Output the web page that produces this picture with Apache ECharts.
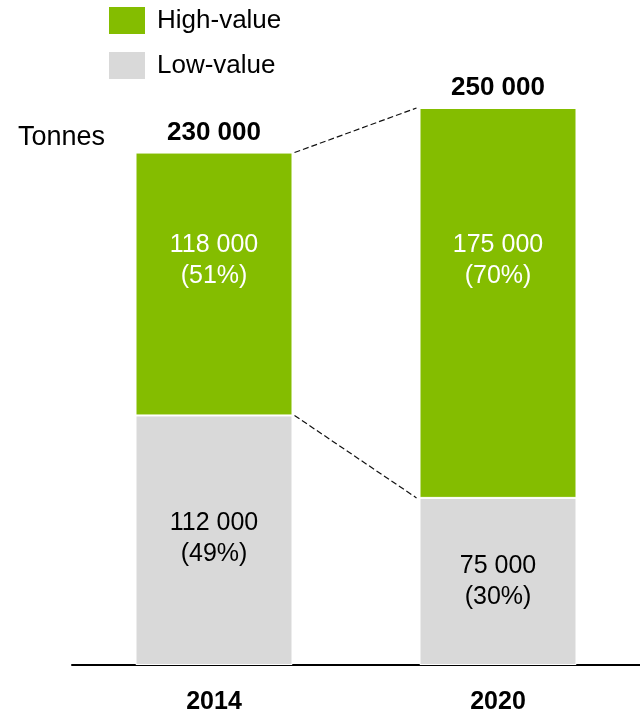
<!DOCTYPE html>
<html>
<head>
<meta charset="utf-8">
<script src="https://cdn.jsdelivr.net/npm/echarts@6/dist/echarts.min.js"></script>
<style>
  html, body { margin: 0; padding: 0; background: #fff; }
  #chart { width: 640px; height: 713px; }
</style>
</head>
<body>
<div id="chart"></div>
<script>
var years = ['2014', '2020'];
var lowValue = [112000, 75000];
var highValue = [118000, 175000];
var lowPct = ['49%', '30%'];
var highPct = ['51%', '70%'];
var totals = [230000, 250000];

var FONT = 'Liberation Sans, Arial, sans-serif';
var BAR_W = 157;
// the labels in the green part sit at the same height in both bars
var highLabelOffset = [[0, -23], [0, -42]];
var lowLabelOffset = [[0, -2], [0, 0]];

function fmt(v) {
  return String(v).replace(/\B(?=(\d{3})+(?!\d))/g, ' ');
}

var chart = echarts.init(document.getElementById('chart'));

// dashed connectors between the two bars: [x, value left bar, value right bar]
var connectors = [
  [0, totals[0], totals[1]],
  [0, lowValue[0], lowValue[1]]
];

var option = {
  animation: false,
  textStyle: { fontFamily: FONT },
  title: {
    text: 'Tonnes',
    left: 18,
    top: 124,
    padding: 0,
    textStyle: { fontFamily: FONT, fontSize: 27, fontWeight: 'normal', color: '#000' }
  },
  legend: {
    data: ['High-value', 'Low-value'],
    orient: 'vertical',
    left: 107,
    top: 5,
    padding: 0,
    itemWidth: 38,
    itemHeight: 29,
    itemGap: 14,
    icon: 'rect',
    textStyle: { fontFamily: FONT, fontSize: 26, color: '#000', padding: [3, 0, 0, 6] }
  },
  grid: { left: 72, right: 0, top: 108, bottom: 48, containLabel: false, outerBoundsMode: 'none' },
  xAxis: {
    type: 'category',
    data: years,
    axisLine: { lineStyle: { color: '#000', width: 2 } },
    axisTick: { show: false },
    axisLabel: { fontFamily: FONT, fontSize: 25, fontWeight: 'bold', color: '#000', margin: 25 }
  },
  yAxis: {
    type: 'value',
    min: 0,
    max: 250000,
    show: false,
    splitLine: { show: false }
  },
  series: [
    {
      name: 'Low-value',
      type: 'bar',
      stack: 't',
      barWidth: BAR_W,
      data: lowValue.map(function (v, i) {
        return { value: v, label: { offset: lowLabelOffset[i] } };
      }),
      itemStyle: { color: '#d9d9d9', borderColor: '#fff', borderWidth: 1 },
      label: {
        show: true,
        position: 'inside',
        fontFamily: FONT,
        fontSize: 25,
        lineHeight: 31,
        color: '#000',
        formatter: function (p) { return fmt(p.value) + '\n(' + lowPct[p.dataIndex] + ')'; }
      }
    },
    {
      name: 'High-value',
      type: 'bar',
      stack: 't',
      barWidth: BAR_W,
      data: highValue.map(function (v, i) {
        return { value: v, label: { offset: highLabelOffset[i] } };
      }),
      itemStyle: { color: '#84bd00', borderColor: '#fff', borderWidth: 1 },
      label: {
        show: true,
        position: 'inside',
        fontFamily: FONT,
        fontSize: 25,
        lineHeight: 31,
        color: '#fff',
        formatter: function (p) { return fmt(p.value) + '\n(' + highPct[p.dataIndex] + ')'; }
      }
    },
    {
      name: 'Total',
      type: 'bar',
      stack: 't',
      barWidth: BAR_W,
      data: [0, 0],
      itemStyle: { color: 'transparent' },
      label: {
        show: true,
        position: 'top',
        distance: 7,
        fontFamily: FONT,
        fontSize: 26,
        fontWeight: 'bold',
        color: '#000',
        formatter: function (p) { return fmt(totals[p.dataIndex]); }
      }
    },
    {
      type: 'custom',
      data: connectors,
      encode: { x: 0, y: 1 },
      silent: true,
      z: 5,
      renderItem: function (params, api) {
        var p0 = api.coord([0, api.value(1)]);
        var p1 = api.coord([1, api.value(2)]);
        return {
          type: 'line',
          shape: { x1: p0[0] + BAR_W / 2 + 2, y1: p0[1], x2: p1[0] - BAR_W / 2 - 3, y2: p1[1] },
          style: { stroke: '#111', lineWidth: 1.2, lineDash: [6, 3] }
        };
      }
    }
  ]
};

chart.setOption(option);
window.addEventListener('resize', function () {
  chart.resize();
});
</script>
</body>
</html>
